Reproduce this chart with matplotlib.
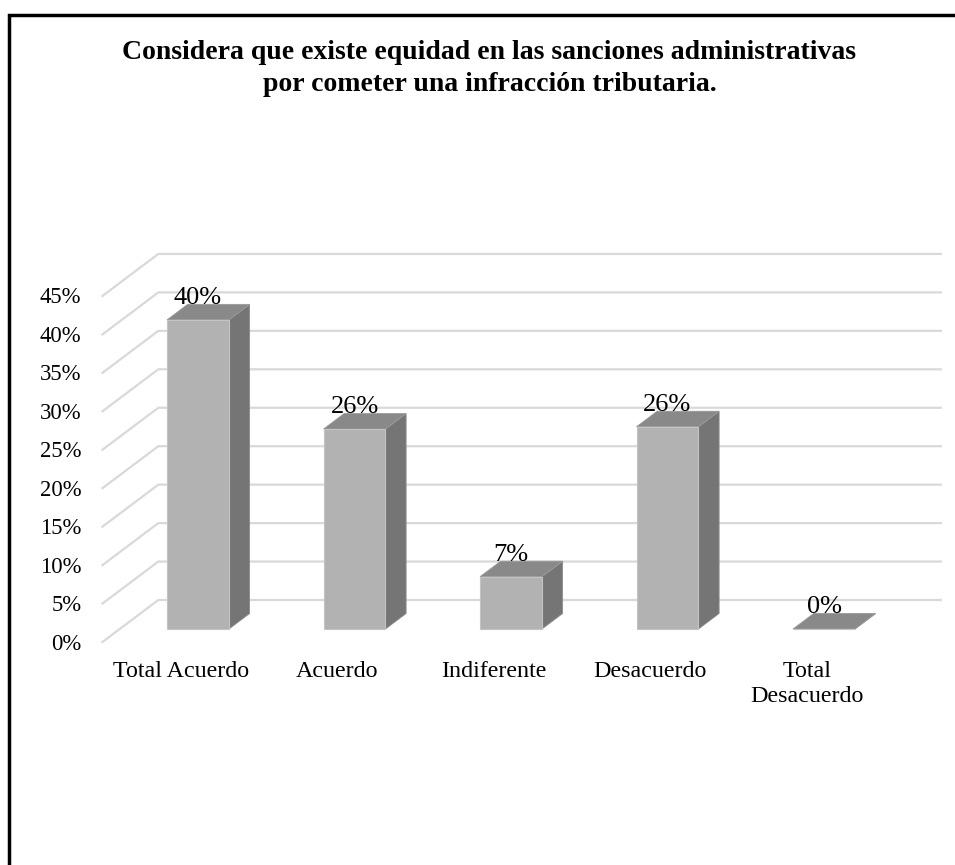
import numpy as np
import matplotlib.pyplot as plt
from matplotlib.patches import Polygon, Rectangle

# ------------------------------------------------------------------
title = ("Considera que existe equidad en las sanciones administrativas\n"
         "por cometer una infracción tributaria.")
categories = ["Total Acuerdo", "Acuerdo", "Indiferente", "Desacuerdo", "Total\nDesacuerdo"]
values = [40.2, 26.0, 6.8, 26.3, 0.0]
ticks = np.arange(0, 50, 5)

# pseudo-3d geometry (pixels)
PX_X = 156.5     # px per category
PX_Y = 7.69      # px per percent
SLANT = 1.33     # horizontal shift per vertical px of depth
BAR_HALF = 0.198
BAR_DEPTH = 15.5
FLOOR_FRONT = -13
BACK_WALL = 29
# ------------------------------------------------------------------

plt.rcParams['font.family'] = ['Liberation Serif', 'DejaVu Serif']

fig = plt.figure(figsize=(9.55, 8.65), dpi=100)
ax = fig.add_axes([0, 0, 1, 1])
ax.set_xlim(-198 / PX_X, (955 - 198) / PX_X)
ax.set_ylim((629 - 865) / PX_Y, 629 / PX_Y)
ax.axis('off')


def proj(x, y, t):
    # push a point t px back along the oblique depth direction
    return x + t * SLANT / PX_X, y + t / PX_Y


grid_c = '#d9d9d9'
for v in ticks:
    x0, y0 = proj(-0.5, v, FLOOR_FRONT)
    x1, y1 = proj(-0.5, v, BACK_WALL)
    x2, y2 = proj(4.5, v, BACK_WALL)
    ax.plot([x0, x1, x2], [y0, y1, y2], color=grid_c, lw=1.6, zorder=1,
            solid_joinstyle='miter')
    ax.annotate(f"{v}%", (x0, y0), xytext=(-21, -2), textcoords='offset pixels',
                ha='right', va='center', fontsize=16.3)

front_c, side_c, top_c = '#b2b2b2', '#757575', '#898989'
for i, (cat, v) in enumerate(zip(categories, values)):
    xl, xr = i - BAR_HALF, i + BAR_HALF
    front = [(xl, 0), (xr, 0), (xr, v), (xl, v)]
    side = [(xr, 0), proj(xr, 0, BAR_DEPTH), proj(xr, v, BAR_DEPTH), (xr, v)]
    top = [(xl, v), (xr, v), proj(xr, v, BAR_DEPTH), proj(xl, v, BAR_DEPTH)]
    ax.add_patch(Polygon(side, closed=True, fc=side_c, ec='#8c8c8c', lw=0.6, zorder=2))
    ax.add_patch(Polygon(top, closed=True, fc=top_c, ec='#9a9a9a', lw=0.6, zorder=2))
    ax.add_patch(Polygon(front, closed=True, fc=front_c, ec='#c4c4c4', lw=0.8, zorder=3))

    ax.annotate(f"{v:.0f}%", (i, v), xytext=(0, 22), textcoords='offset pixels',
                ha='center', va='center', fontsize=19, zorder=5)
    lx, ly = proj(i, 0, FLOOR_FRONT)
    ax.annotate(cat, (lx, ly), xytext=(0, -19), textcoords='offset pixels',
                ha='center', va='top', fontsize=17.3, multialignment='center',
                linespacing=1.22)

fig.text(489.5 / 955, 1 - 68.5 / 865, title, ha='center', va='center',
         fontsize=20, fontweight='bold', linespacing=1.42)

# outer frame (right and bottom edges fall outside the picture)
fig.add_artist(Rectangle((9 / 955, -0.2), 1.5, 1.2 - 14.5 / 865,
                         transform=fig.transFigure, fill=False,
                         ec='black', lw=2.5))

fig.savefig('out.png', dpi=100)
